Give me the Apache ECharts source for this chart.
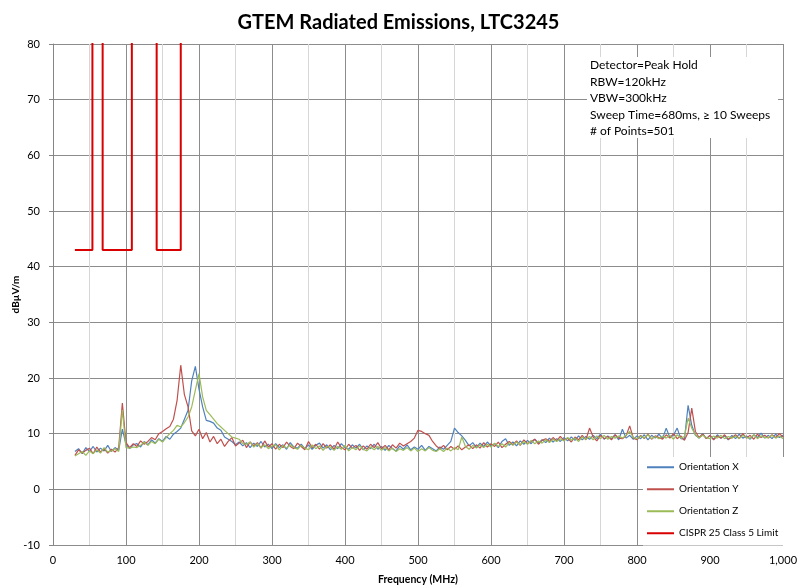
<!DOCTYPE html>
<html>
<head>
<meta charset="utf-8">
<script src="https://cdn.jsdelivr.net/npm/echarts@6/dist/echarts.min.js"></script>
<style>
html,body{margin:0;padding:0;background:#fff;}
#c{width:797px;height:588px;}
</style>
</head>
<body>
<div id="c"></div>
<script>
// Frequency points (MHz)
const freq = [
30,35,40,45,50,55,60,65,70,75,
80,85,90,95,100,105,110,115,120,125,
130,135,140,145,150,155,160,165,170,175,
180,185,190,195,200,205,210,215,220,225,
230,235,240,245,250,255,260,265,270,275,
280,285,290,295,300,305,310,315,320,325,
330,335,340,345,350,355,360,365,370,375,
380,385,390,395,400,405,410,415,420,425,
430,435,440,445,450,455,460,465,470,475,
480,485,490,495,500,505,510,515,520,525,
530,535,540,545,550,555,560,565,570,575,
580,585,590,595,600,605,610,615,620,625,
630,635,640,645,650,655,660,665,670,675,
680,685,690,695,700,705,710,715,720,725,
730,735,740,745,750,755,760,765,770,775,
780,785,790,795,800,805,810,815,820,825,
830,835,840,845,850,855,860,865,870,875,
880,885,890,895,900,905,910,915,920,925,
930,935,940,945,950,955,960,965,970,975,
980,985,990,995,1000
];
const orientX = [
6.8,7.3,6.4,7.5,6.8,7.7,6.7,7.4,6.9,7.9,
6.8,7.5,7.0,10.8,8.1,7.3,8.0,8.2,7.6,8.6,
8.0,8.9,8.3,9.1,8.6,9.5,9.0,9.9,10.4,11.0,
12.6,14.2,19.5,22.1,18.0,14.8,12.4,12.2,11.9,11.0,
10.6,9.4,9.0,8.6,8.0,8.5,7.8,8.4,7.5,8.3,
7.7,8.6,7.6,8.1,7.3,8.2,7.5,8.0,7.2,8.4,
7.6,7.4,8.1,7.3,8.0,7.2,7.9,8.3,7.4,8.0,
7.1,7.9,7.3,8.2,7.5,7.2,8.0,7.4,8.1,7.1,
7.8,7.3,8.1,7.2,7.7,7.0,7.9,7.3,6.9,7.8,
7.2,8.0,7.1,7.6,7.2,7.9,7.0,7.7,7.3,6.9,
7.6,7.2,7.9,8.6,11.0,10.2,9.6,8.8,7.8,8.4,
7.5,8.3,7.7,8.5,7.8,8.2,7.5,8.6,9.1,7.9,
8.5,7.8,8.7,8.1,8.8,8.2,9.0,8.3,8.9,8.4,
9.2,8.5,9.1,8.6,9.3,8.7,9.4,8.8,9.6,8.9,
9.5,9.0,9.7,9.1,9.9,9.0,9.6,9.1,9.8,8.9,
10.8,9.2,9.7,9.0,9.6,9.1,9.8,8.9,9.7,9.2,
9.9,9.1,11.0,9.3,9.7,11.0,9.1,9.0,15.1,11.5,
9.7,9.2,10.0,9.1,9.7,9.0,9.8,9.2,9.6,8.9,
9.7,9.1,9.9,9.2,9.6,9.0,9.8,9.3,10.1,9.2,
9.7,9.1,9.9,9.3,9.7
];
const orientY = [
6.1,7.1,6.5,7.0,7.4,6.4,7.6,6.7,7.3,6.5,
7.2,6.7,7.5,15.5,8.4,7.5,8.2,7.7,8.7,8.1,
8.6,9.3,8.9,10.0,10.4,10.9,11.3,12.6,16.0,22.3,
17.0,14.8,10.5,9.6,10.8,9.1,10.2,8.5,9.5,8.2,
9.0,7.7,8.6,9.3,7.8,8.3,8.8,7.5,8.5,7.8,
8.4,7.4,8.7,7.6,8.2,7.2,8.1,7.5,8.5,7.7,
7.3,8.3,7.7,7.1,8.6,7.5,8.1,7.2,8.2,7.4,
8.0,7.2,8.5,7.5,7.1,8.1,7.4,7.9,7.0,7.8,
7.2,8.1,7.5,8.4,7.3,7.9,7.1,8.0,7.4,8.3,
7.8,8.2,8.6,9.2,10.6,10.4,10.0,9.7,8.6,7.8,
7.3,7.9,7.1,7.7,7.2,7.8,7.1,7.6,8.0,7.3,
8.0,7.4,8.4,7.6,8.2,7.7,8.5,7.5,8.1,8.6,
8.0,8.7,7.9,8.9,8.2,8.6,9.0,8.1,8.8,9.1,
8.6,9.3,8.7,9.5,8.8,9.2,8.5,9.4,8.9,9.7,
8.9,11.0,9.4,8.7,9.7,9.1,9.5,8.9,9.8,9.2,
9.1,9.6,11.4,9.2,8.9,9.7,9.1,9.9,9.0,9.6,
9.3,9.0,9.8,9.2,10.0,9.1,9.6,8.8,10.2,14.6,
10.4,9.3,9.9,9.1,9.7,8.9,9.6,9.2,9.8,9.0,
9.3,9.8,9.1,10.0,9.2,9.7,9.0,9.9,9.3,9.7,
9.2,9.8,9.3,10.0,9.4
];
const orientZ = [
6.0,6.4,6.8,6.1,6.9,6.4,7.1,6.5,7.5,6.7,
6.9,7.3,6.8,14.3,7.5,7.4,7.6,7.5,7.9,8.5,
7.9,8.6,8.2,9.0,8.5,9.3,10.0,10.6,11.5,11.2,
12.0,13.0,14.8,17.8,20.8,16.6,14.2,13.4,12.6,11.8,
11.2,10.6,10.0,9.4,9.2,9.0,8.2,8.1,8.5,7.6,
8.2,7.5,8.0,7.3,7.8,8.0,7.1,7.9,7.4,8.0,
7.5,7.2,7.9,7.4,7.1,8.0,7.3,7.8,7.0,7.7,
7.6,7.0,7.7,7.2,7.9,6.9,7.5,7.1,7.8,7.2,
6.9,7.6,7.1,7.7,7.0,7.5,6.9,7.4,6.8,7.3,
7.0,7.5,6.9,7.4,6.8,7.3,6.9,7.5,7.0,6.8,
7.3,6.8,7.4,6.9,7.5,7.1,9.4,7.7,7.2,7.9,
7.4,8.0,7.5,8.1,7.6,8.3,7.7,8.2,7.6,8.4,
7.9,8.5,8.0,8.6,8.1,8.8,8.2,8.7,8.3,8.9,
8.4,9.0,8.6,9.1,8.7,9.3,8.8,9.2,8.6,9.4,
9.0,9.5,8.9,9.6,9.1,9.7,9.0,9.5,9.2,9.6,
9.2,9.7,10.4,9.3,9.1,9.6,9.2,9.8,9.1,9.5,
9.1,9.6,9.2,9.7,9.0,9.8,9.2,9.5,12.8,11.0,
9.8,9.2,9.7,9.3,9.1,9.6,9.2,9.7,9.1,9.5,
9.2,9.6,9.1,9.7,9.3,9.2,9.8,9.1,9.6,9.3,
9.3,9.7,9.2,9.6,9.1
];
// CISPR 25 Class 5 limit (steps; verticals run off the top of the plot)
const limitFreq = [30,54,54,68,68,108,108,142,142,175,175];
const limitVal  = [43,43,100,100,43,43,100,100,43,43,100];

const seriesNames = ['Orientation X','Orientation Y','Orientation Z','CISPR 25 Class 5 Limit'];
const infoLines = ['Detector=Peak Hold','RBW=120kHz','VBW=300kHz','Sweep Time=680ms, \u2265 10 Sweeps','# of Points=501'];

const pairs = (xs, ys) => xs.map((x, i) => [x, ys[i]]);
const FONT = 'Lato, "Liberation Sans", sans-serif';

const chart = echarts.init(document.getElementById('c'), null, {renderer: 'canvas'});
chart.setOption({
  animation: false,
  backgroundColor: '#fff',
  textStyle: {fontFamily: FONT},
  title: {
    text: 'GTEM Radiated Emissions, LTC3245',
    left: 'center', top: 8,
    textStyle: {fontFamily: FONT, fontSize: 20, fontWeight: 'bold', color: '#000'}
  },
  grid: {left: 53, right: 14, top: 44, bottom: 43, outerBoundsMode: 'none', containLabel: false},
  xAxis: {
    type: 'value', min: 0, max: 1000, interval: 100,
    name: 'Frequency (MHz)', nameLocation: 'middle', nameGap: 29, nameMoveOverlap: false,
    nameTextStyle: {fontFamily: FONT, fontSize: 10.5, fontWeight: 'bold', color: '#000'},
    axisLine: {show: true, lineStyle: {color: '#868686', width: 1}},
    axisTick: {show: true, length: 4, lineStyle: {color: '#868686'}},
    axisLabel: {color: '#000', fontSize: 11, margin: 10,
      formatter: v => v.toLocaleString('en-US')},
    splitLine: {show: true, lineStyle: {color: '#8c8c8c', width: 1}},
    minorTick: {show: false, splitNumber: 2},
    minorSplitLine: {show: true, lineStyle: {color: '#d6d6d6', width: 1}}
  },
  yAxis: {
    type: 'value', min: -10, max: 80, interval: 10,
    name: 'dB\u00b5V/m', nameLocation: 'middle', nameGap: 32, nameRotate: 90, nameMoveOverlap: false,
    nameTextStyle: {fontFamily: FONT, fontSize: 10, fontWeight: 'bold', color: '#000'},
    axisLine: {show: true, lineStyle: {color: '#868686', width: 1}},
    axisTick: {show: true, length: 4, lineStyle: {color: '#868686'}},
    axisLabel: {color: '#000', fontSize: 11, margin: 13},
    splitLine: {show: true, lineStyle: {color: '#8c8c8c', width: 1}}
  },
  legend: {
    orient: 'vertical', left: 643, top: 457,
    backgroundColor: '#fff', padding: [4, 10, 6, 4],
    itemWidth: 27, itemHeight: 2, itemGap: 9.5,
    textStyle: {fontFamily: FONT, fontSize: 10, color: '#000', lineHeight: 12.5},
    data: seriesNames.map(n => ({name: n, icon: 'rect'}))
  },
  series: [
    {name: seriesNames[0], type: 'line', data: pairs(freq, orientX), symbol: 'none',
     lineStyle: {color: '#4F81BD', width: 1.2}, itemStyle: {color: '#4F81BD'}, z: 2},
    {name: seriesNames[1], type: 'line', data: pairs(freq, orientY), symbol: 'none',
     lineStyle: {color: '#C0504D', width: 1.2}, itemStyle: {color: '#C0504D'}, z: 2},
    {name: seriesNames[2], type: 'line', data: pairs(freq, orientZ), symbol: 'none',
     lineStyle: {color: '#9BBB59', width: 1.2}, itemStyle: {color: '#9BBB59'}, z: 2},
    {name: seriesNames[3], type: 'line', data: pairs(limitFreq, limitVal), symbol: 'none',
     clip: true, lineStyle: {color: '#D80000', width: 2}, itemStyle: {color: '#D80000'}, z: 3}
  ],
  graphic: [
    {type: 'rect', left: 587, top: 57, z: 10,
     shape: {width: 191, height: 81}, style: {fill: '#fff'}},
    {type: 'text', left: 590, top: 57, z: 11,
     style: {text: infoLines.join('\n'), font: '12px ' + FONT, fill: '#000', lineHeight: 16.5}}
  ]
});
</script>
</body>
</html>
